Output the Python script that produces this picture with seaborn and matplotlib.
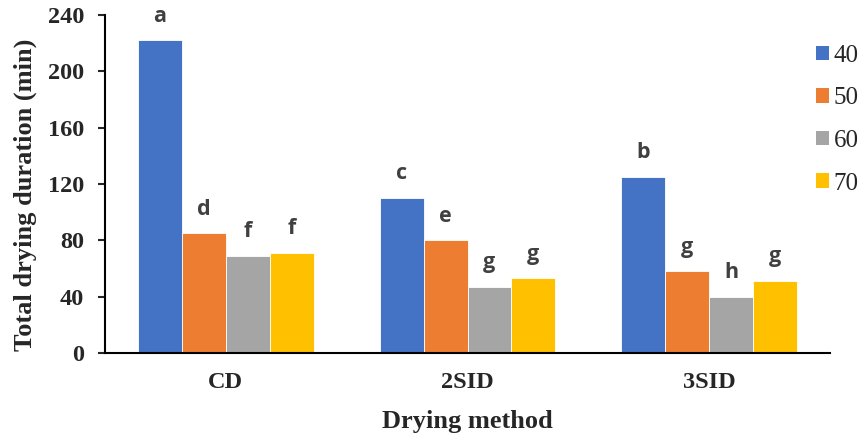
import matplotlib
matplotlib.use("Agg")
import matplotlib.pyplot as plt
from matplotlib.patches import Patch
import seaborn as sns
import pandas as pd

# Drying methods and temperatures (°C)
methods = ["CD", "2SID", "3SID"]
temperatures = ["40", "50", "60", "70"]

# Total drying duration (min) per method, one list per temperature
dur_40 = [222, 110, 125]
dur_50 = [85, 80, 58]
dur_60 = [69, 47, 40]
dur_70 = [71, 53, 51]

# Significance letters, same layout as the durations
sig_40 = ["a", "c", "b"]
sig_50 = ["d", "e", "g"]
sig_60 = ["f", "g", "h"]
sig_70 = ["f", "g", "g"]

colors = ["#4472C4", "#ED7D31", "#A5A5A5", "#FFC000"]

durations = [dur_40, dur_50, dur_60, dur_70]
letters = [sig_40, sig_50, sig_60, sig_70]

rows = []
for t, vals, sigs in zip(temperatures, durations, letters):
    for m, v, s in zip(methods, vals, sigs):
        rows.append({"method": m, "temp": t, "duration": v, "sig": s})
df = pd.DataFrame(rows)

sns.set_style("ticks")
plt.rcParams["font.family"] = ["Liberation Serif", "DejaVu Serif"]

fig = plt.figure(figsize=(8.59, 4.36), dpi=100)
ax = fig.add_axes([105 / 859, 83 / 436, 725 / 859, 338 / 436])

sns.barplot(
    data=df, x="method", y="duration", hue="temp",
    order=methods, hue_order=temperatures,
    palette=colors, width=0.727, gap=0, saturation=1,
    edgecolor="white", linewidth=0.6, legend=False, ax=ax,
)

# Letters above each bar
for container, sigs in zip(ax.containers, letters):
    for bar, s in zip(container, sigs):
        ax.annotate(
            s,
            (bar.get_x() + bar.get_width() / 2, bar.get_height()),
            xytext=(0, 13.5), textcoords="offset points",
            ha="center", va="baseline",
            fontsize=15.5, fontweight="bold", color="#404040",
            family=["Open Sans", "DejaVu Sans"],
        )

ax.set_ylim(0, 240)
ax.set_xlim(-0.5, 2.5)
ax.set_yticks(range(0, 241, 40))
ax.tick_params(axis="y", direction="out", length=5, width=1.5, labelsize=17.5, pad=10)
ax.tick_params(axis="x", length=0, labelsize=17.5, pad=14)
for lab in ax.get_xticklabels() + ax.get_yticklabels():
    lab.set_fontweight("bold")

ax.set_xlabel("Drying method", fontsize=19, fontweight="bold", labelpad=12)
ax.set_ylabel("Total drying duration (min)", fontsize=19, fontweight="bold")
ax.yaxis.set_label_coords(-0.094, 0.469)

for side in ["top", "right"]:
    ax.spines[side].set_visible(False)
for side in ["left", "bottom"]:
    ax.spines[side].set_linewidth(1.5)
    ax.spines[side].set_color("black")

handles = [Patch(facecolor=c, edgecolor="none") for c in colors]
fig.legend(
    handles, temperatures,
    loc="upper left", bbox_to_anchor=(816 / 859, 1 - 45 / 436),
    frameon=False, fontsize=18,
    handlelength=0.5, handleheight=0.5, handletextpad=0.2,
    labelspacing=0.82, borderaxespad=0, borderpad=0,
)

fig.savefig("out.png", dpi=100)
